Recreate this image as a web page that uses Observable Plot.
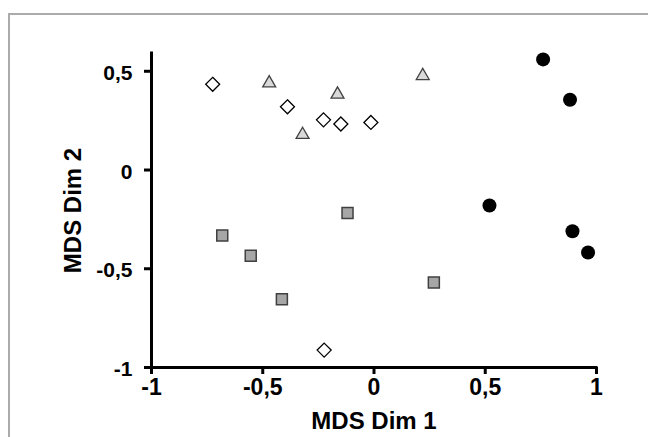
<!DOCTYPE html>
<html>
<head>
<meta charset="utf-8">
<script src="https://cdn.jsdelivr.net/npm/d3@7"></script>
<script src="https://cdn.jsdelivr.net/npm/@observablehq/plot@0.6"></script>
<style>
  html, body { margin: 0; padding: 0; background: #fff; }
  #wrap { position: relative; width: 648px; height: 437px; overflow: hidden; }
  #border { position: absolute; left: 8px; top: 13px; right: -10px; bottom: -10px;
            border-top: 2px solid #ababab; border-left: 2px solid #ababab; }
  #chart { position: absolute; left: 0; top: 0; }
</style>
</head>
<body>
<div id="wrap"><div id="border"></div><div id="chart"></div></div>
<script>
// Series: open diamonds
const diamondX = [-0.725, -0.389, -0.227, -0.149, -0.014, -0.224];
const diamondY = [0.434, 0.320, 0.254, 0.233, 0.241, -0.912];
// Series: grey triangles
const triangleX = [-0.471, -0.321, -0.164, 0.219];
const triangleY = [0.440, 0.179, 0.383, 0.477];
// Series: black circles
const circleX = [0.760, 0.881, 0.519, 0.892, 0.962];
const circleY = [0.560, 0.356, -0.180, -0.310, -0.418];
// Series: grey squares
const squareX = [-0.682, -0.554, -0.414, -0.119, 0.269];
const squareY = [-0.332, -0.434, -0.655, -0.218, -0.570];

const xTicks = [-1, -0.5, 0, 0.5, 1];
const yTicks = [-1, -0.5, 0, 0.5];
const xTitle = "MDS Dim 1";
const yTitle = "MDS Dim 2";

const pts = (xs, ys) => xs.map((x, i) => ({x, y: ys[i]}));
const fmt = d => String(d).replace(".", ",");

const chart = Plot.plot({
  width: 648,
  height: 437,
  marginLeft: 151,
  marginRight: 52,
  marginTop: 53,
  marginBottom: 70,
  style: {fontFamily: "'Liberation Sans', Arial, sans-serif", fontWeight: "bold", background: "transparent", overflow: "visible"},
  x: {domain: [-1, 1], axis: null},
  y: {domain: [-1, 0.59], axis: null},
  marks: [
    Plot.ruleX([-1], {stroke: "black", strokeWidth: 3, strokeLinecap: "square"}),
    Plot.ruleY([-1], {stroke: "black", strokeWidth: 3, strokeLinecap: "square"}),
    Plot.axisX({ticks: xTicks, tickFormat: () => "", tickSize: 7, strokeWidth: 3, label: null}),
    Plot.axisY({ticks: yTicks, tickFormat: () => "", tickSize: 7, strokeWidth: 3, label: null}),
    Plot.text(xTicks, {x: d => d, text: fmt, frameAnchor: "bottom", dy: 27, fontSize: 23, fontWeight: "bold", fill: "black"}),
    Plot.text(yTicks, {y: d => d, text: fmt, frameAnchor: "left", dx: -19, dy: 2, textAnchor: "end", fontSize: 21, fontWeight: "bold", fill: "black"}),
    Plot.text([xTitle], {frameAnchor: "bottom", dy: 61, fontSize: 24, fontWeight: "bold", fill: "black", textAnchor: "middle"}),
    Plot.text([yTitle], {frameAnchor: "left", dx: -78, rotate: -90, fontSize: 24, fontWeight: "bold", fill: "black", textAnchor: "middle"}),
    Plot.dot(pts(squareX, squareY), {x: "x", y: "y", symbol: "square", r: 6.2, fill: "#a6a6a6", stroke: "#404040", strokeWidth: 1.5}),
    Plot.dot(pts(triangleX, triangleY), {x: "x", y: "y", symbol: "triangle", r: 4.8, fill: "#d9d9d9", stroke: "#404040", strokeWidth: 1.3}),
    Plot.dot(pts(diamondX, diamondY), {x: "x", y: "y", symbol: "diamond2", r: 6.3, fill: "white", stroke: "black", strokeWidth: 1.3}),
    Plot.dot(pts(circleX, circleY), {x: "x", y: "y", symbol: "circle", r: 7, fill: "black", stroke: "none"})
  ]
});
document.getElementById("chart").appendChild(chart);
</script>
</body>
</html>
